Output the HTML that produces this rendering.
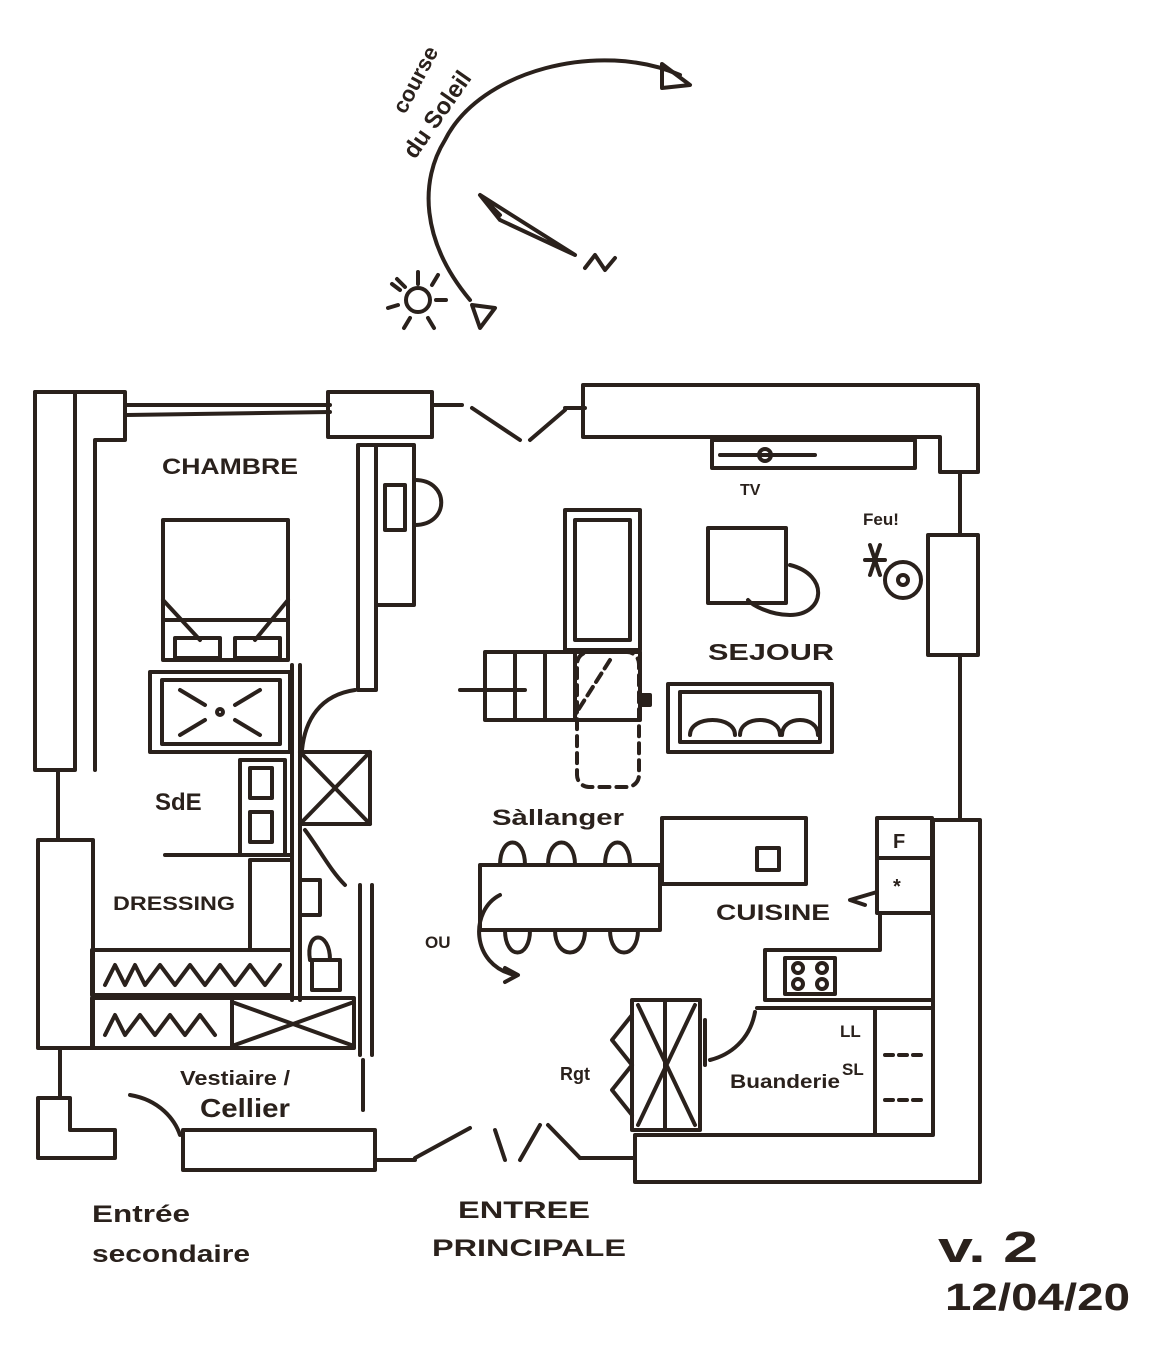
<!DOCTYPE html>
<html><head><meta charset="utf-8"><style>
html,body{margin:0;padding:0;background:#fff;}
svg{display:block}
text{font-family:"Liberation Sans",sans-serif;fill:#2a211c;font-weight:bold}
</style></head><body>
<svg width="1154" height="1348" viewBox="0 0 1154 1348" xmlns="http://www.w3.org/2000/svg">
<rect width="1154" height="1348" fill="#fff"/>
<g stroke="#2a211c" stroke-width="4" fill="none" stroke-linecap="round" stroke-linejoin="round">
<path d="M470 300 C420 240 420 180 445 140 C480 70 600 40 680 75"/>
<path d="M662 64 L690 85 L662 88 Z"/>
<path d="M472 305 L480 328 L495 308 Z"/>
<circle cx="418" cy="300" r="12"/>
<path d="M400 290l-8-6M398 305l-10 3M410 318l-6 10M428 318l6 10M436 300l10 0M432 285l6-10M418 284l0-12M405 287l-8-8"/>
<path d="M480 195 L575 255 L500 220 Z M480 195 L500 215"/>
<path d="M585 268 L595 255 L605 270 L615 258"/>
<rect x="35" y="392" width="40" height="378"/>
<path d="M35 392 H125 V440 H95 V770"/>
<line x1="125" y1="405" x2="330" y2="405"/>
<line x1="125" y1="415" x2="330" y2="412"/>
<rect x="328" y="392" width="104" height="45"/>
<line x1="432" y1="405" x2="462" y2="405"/>
<line x1="472" y1="408" x2="520" y2="440"/>
<line x1="530" y1="440" x2="565" y2="410"/>
<line x1="565" y1="408" x2="585" y2="408"/>
<path d="M583 385 H978 V472 H940 V437 H583 Z"/>
<rect x="712" y="440" width="203" height="28"/>
<line x1="720" y1="455" x2="815" y2="455"/>
<circle cx="765" cy="455" r="6"/>
<line x1="960" y1="472" x2="960" y2="535"/>
<rect x="928" y="535" width="50" height="120"/>
<line x1="960" y1="655" x2="960" y2="820"/>
<path d="M933 820 H980 V1182 H635 V1135 H933 Z"/>
<line x1="58" y1="770" x2="58" y2="840"/>
<rect x="38" y="840" width="55" height="208"/>
<line x1="60" y1="1048" x2="60" y2="1098"/>
<path d="M38 1098 H70 V1130 H115 V1158 H38 Z"/>
<path d="M130 1095 C160 1100 175 1120 180 1135"/>
<rect x="183" y="1130" width="192" height="40"/>
<line x1="375" y1="1160" x2="415" y2="1160"/>
<path d="M415 1158 L470 1128 M505 1160 L495 1130 M520 1160 L540 1125 M548 1125 L580 1158"/>
<line x1="580" y1="1158" x2="635" y2="1158"/>
<rect x="358" y="445" width="18" height="245"/>
<rect x="376" y="445" width="38" height="160"/>
<path d="M385 485 H405 V530 H385 Z M415 480 C450 480 450 525 415 525"/>
<line x1="300" y1="665" x2="300" y2="1000"/>
<line x1="292" y1="665" x2="292" y2="1000"/>
<path d="M355 690 C320 695 305 720 302 750"/>
<rect x="300" y="752" width="70" height="72"/>
<path d="M300 752 L370 824 M370 752 L300 824"/>
<path d="M305 830 C320 850 330 870 345 885"/>
<line x1="360" y1="885" x2="360" y2="1055"/>
<line x1="372" y1="885" x2="372" y2="1055"/>
<rect x="163" y="520" width="125" height="140"/>
<path d="M163 600 L200 640 M288 600 L255 640 M163 620 H288"/>
<rect x="175" y="638" width="45" height="20"/><rect x="235" y="638" width="45" height="20"/>
<rect x="150" y="672" width="140" height="80"/>
<rect x="162" y="680" width="118" height="64"/>
<path d="M180 690 L205 705 M260 690 L235 705 M180 735 L205 720 M260 735 L235 720"/>
<circle cx="220" cy="712" r="3"/>
<rect x="240" y="760" width="45" height="95"/>
<rect x="250" y="768" width="22" height="30"/><rect x="250" y="812" width="22" height="30"/>
<line x1="165" y1="855" x2="290" y2="855"/>
<rect x="250" y="860" width="42" height="90"/>
<line x1="245" y1="950" x2="290" y2="950"/>
<rect x="300" y="880" width="20" height="35"/>
<path d="M310 960 C305 930 330 930 330 960 Z M312 960 H340 V990 H312 Z"/>
<rect x="92" y="950" width="200" height="45"/>
<path d="M105 985 L115 965 L125 985 L135 965 L145 985 L160 965 L175 985 L190 965 L205 985 L220 965 L235 985 L250 965 L265 985 L280 965"/>
<rect x="92" y="998" width="262" height="50"/>
<path d="M105 1035 L115 1015 L125 1035 L140 1015 L155 1035 L170 1015 L185 1035 L200 1015 L215 1035 M232 1002 L354 1046 M354 1002 L232 1046"/>
<line x1="232" y1="998" x2="232" y2="1048"/>
<line x1="363" y1="1060" x2="363" y2="1110"/>
<rect x="485" y="652" width="155" height="68"/>
<path d="M515 652V720 M545 652V720 M575 652V720 M460 690 H525"/>
<rect x="577" y="652" width="62" height="135" rx="12" stroke-dasharray="10 7"/>
<path d="M610 660 L575 715" stroke-dasharray="10 6"/>
<rect x="640" y="695" width="10" height="10" fill="#2a211c"/>
<rect x="565" y="510" width="75" height="140"/>
<rect x="575" y="520" width="55" height="120"/>
<rect x="708" y="528" width="78" height="75"/>
<path d="M790 565 C830 575 825 615 790 615 C770 615 752 605 748 600"/>
<rect x="668" y="684" width="164" height="68"/>
<rect x="680" y="692" width="140" height="50"/>
<path d="M690 735 C690 715 735 715 735 735 M740 735 C740 715 780 715 780 735 M782 735 C782 715 818 715 818 735"/>
<circle cx="903" cy="580" r="18"/><circle cx="903" cy="580" r="5"/>
<path d="M870 545 L880 575 M880 545 L870 575 M865 560 H885"/>
<path d="M500 865 C500 835 525 835 525 865 M548 865 C548 835 575 835 575 865 M605 865 C605 835 630 835 630 865"/>
<rect x="480" y="865" width="180" height="65"/>
<path d="M505 930 C505 960 530 960 530 930 M555 930 C555 960 585 960 585 930 M610 930 C610 960 638 960 638 930"/>
<path d="M500 895 C470 910 470 965 515 975 M505 968 L518 975 L505 982"/>
<rect x="662" y="818" width="144" height="66"/>
<rect x="757" y="848" width="22" height="22"/>
<rect x="877" y="818" width="55" height="95"/>
<line x1="877" y1="858" x2="932" y2="858"/>
<path d="M877 892 L850 900 L865 905"/>
<path d="M880 913 V950 H765 V1000 H933"/>
<rect x="785" y="958" width="50" height="36"/>
<circle cx="798" cy="968" r="5"/><circle cx="822" cy="968" r="5"/><circle cx="798" cy="984" r="5"/><circle cx="822" cy="984" r="5"/>
<line x1="757" y1="1008" x2="933" y2="1008"/>
<line x1="875" y1="1008" x2="875" y2="1135"/>
<path d="M885 1055 H925 M885 1100 H925" stroke-dasharray="8 6"/>
<rect x="632" y="1000" width="68" height="130"/>
<path d="M638 1005 L695 1125 M695 1005 L638 1125 M665 1000 V1130"/>
<path d="M632 1015 L612 1040 L632 1065 M632 1065 L612 1090 L632 1115"/>
<line x1="705" y1="1020" x2="705" y2="1065"/>
<path d="M755 1012 C750 1040 730 1055 710 1060"/>
</g>
<g font-size="22">
<text x="162" y="474" textLength="136" lengthAdjust="spacingAndGlyphs">CHAMBRE</text>
<text x="155" y="810" font-size="24">SdE</text>
<text x="113" y="910" font-size="19" textLength="122" lengthAdjust="spacingAndGlyphs">DRESSING</text>
<text x="708" y="660" font-size="23" textLength="126" lengthAdjust="spacingAndGlyphs">SEJOUR</text>
<text x="492" y="825" textLength="132" lengthAdjust="spacingAndGlyphs">Sàllanger</text>
<text x="716" y="920" textLength="114" lengthAdjust="spacingAndGlyphs">CUISINE</text>
<text x="740" y="495" font-size="16">TV</text>
<text x="863" y="525" font-size="17">Feu!</text>
<text x="425" y="948" font-size="17">OU</text>
<text x="893" y="848" font-size="20">F</text>
<text x="893" y="893" font-size="20">*</text>
<text x="180" y="1085" font-size="20" textLength="110" lengthAdjust="spacingAndGlyphs">Vestiaire /</text>
<text x="200" y="1117" font-size="26" textLength="90" lengthAdjust="spacingAndGlyphs">Cellier</text>
<text x="560" y="1080" font-size="18">Rgt</text>
<text x="730" y="1088" font-size="19" textLength="110" lengthAdjust="spacingAndGlyphs">Buanderie</text>
<text x="840" y="1037" font-size="17">LL</text>
<text x="842" y="1075" font-size="17">SL</text>
<text x="92" y="1222" font-size="24" textLength="98" lengthAdjust="spacingAndGlyphs">Entrée</text>
<text x="92" y="1262" font-size="24" textLength="158" lengthAdjust="spacingAndGlyphs">secondaire</text>
<text x="458" y="1218" font-size="24" textLength="132" lengthAdjust="spacingAndGlyphs">ENTREE</text>
<text x="432" y="1256" font-size="24" textLength="194" lengthAdjust="spacingAndGlyphs">PRINCIPALE</text>
<text x="938" y="1262" font-size="44" font-weight="normal" textLength="100" lengthAdjust="spacingAndGlyphs">v. 2</text>
<text x="945" y="1310" font-size="38" font-weight="normal" textLength="185" lengthAdjust="spacingAndGlyphs">12/04/20</text>
<text x="405" y="115" font-size="22" transform="rotate(-62 405 115)">course</text>
<text x="415" y="160" font-size="24" transform="rotate(-55 415 160)">du Soleil</text>
</g>
</svg>
</body></html>
